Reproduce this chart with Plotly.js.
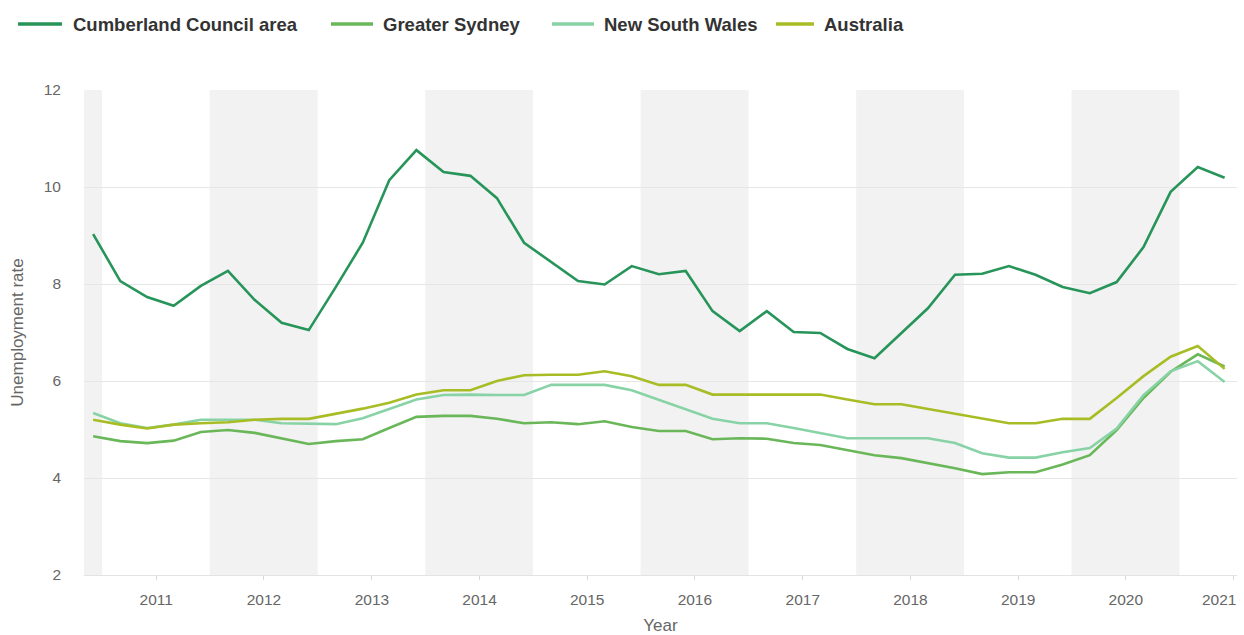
<!DOCTYPE html>
<html>
<head>
<meta charset="utf-8">
<script src="https://cdn.plot.ly/plotly-3.0.1.min.js"></script>
<style>html,body{margin:0;padding:0;background:#fff;}#chart{width:1244px;height:635px;}</style>
</head>
<body>
<div id="chart"></div>
<script>
const quarters = [
  '2010-06-01','2010-09-01','2010-12-01',
  '2011-03-01','2011-06-01','2011-09-01','2011-12-01',
  '2012-03-01','2012-06-01','2012-09-01','2012-12-01',
  '2013-03-01','2013-06-01','2013-09-01','2013-12-01',
  '2014-03-01','2014-06-01','2014-09-01','2014-12-01',
  '2015-03-01','2015-06-01','2015-09-01','2015-12-01',
  '2016-03-01','2016-06-01','2016-09-01','2016-12-01',
  '2017-03-01','2017-06-01','2017-09-01','2017-12-01',
  '2018-03-01','2018-06-01','2018-09-01','2018-12-01',
  '2019-03-01','2019-06-01','2019-09-01','2019-12-01',
  '2020-03-01','2020-06-01','2020-09-01','2020-12-01'
];

const cumberland = [9.03,8.06,7.73,7.55,7.96,8.27,7.67,7.20,7.05,7.94,8.85,10.14,10.76,10.31,10.23,9.77,8.85,8.45,8.06,7.99,8.37,8.20,8.27,7.44,7.03,7.44,7.01,6.99,6.66,6.47,6.99,7.50,8.19,8.21,8.37,8.19,7.94,7.81,8.04,8.76,9.90,10.41,10.19];
const greaterSydney = [4.86,4.76,4.72,4.77,4.95,4.99,4.93,4.82,4.70,4.76,4.80,5.03,5.26,5.28,5.28,5.22,5.13,5.15,5.11,5.17,5.05,4.97,4.97,4.80,4.82,4.81,4.72,4.68,4.58,4.47,4.41,4.31,4.20,4.08,4.12,4.12,4.28,4.47,4.99,5.65,6.19,6.55,6.30];
const nsw = [5.34,5.13,5.03,5.10,5.20,5.20,5.20,5.13,5.12,5.11,5.23,5.43,5.62,5.71,5.72,5.71,5.71,5.92,5.92,5.92,5.81,5.61,5.41,5.22,5.13,5.13,5.03,4.92,4.82,4.82,4.82,4.82,4.72,4.51,4.42,4.42,4.53,4.62,5.02,5.71,6.20,6.41,5.98];
const australia = [5.20,5.10,5.02,5.10,5.13,5.15,5.20,5.22,5.22,5.32,5.43,5.55,5.72,5.81,5.81,6.00,6.12,6.13,6.13,6.20,6.10,5.92,5.92,5.72,5.72,5.72,5.72,5.72,5.62,5.52,5.52,5.42,5.32,5.22,5.13,5.13,5.22,5.22,5.65,6.10,6.50,6.72,6.25];

const seriesNames = ['Cumberland Council area','Greater Sydney','New South Wales','Australia'];
const seriesColors = ['#27955a','#6ab75a','#88d3a6','#a8bd25'];

// shaded (financial-year) bands
const bandStarts = ['2010-04-01','2011-07-01','2013-07-01','2015-07-01','2017-07-01','2019-07-01'];
const bandEnds   = ['2010-07-01','2012-07-01','2014-07-01','2016-07-01','2018-07-01','2020-07-01'];

const yearTicks = ['2011-01-01','2012-01-01','2013-01-01','2014-01-01','2015-01-01','2016-01-01','2017-01-01','2018-01-01','2019-01-01','2020-01-01','2021-01-01'];
const yearLabels = ['2011','2012','2013','2014','2015','2016','2017','2018','2019','2020','2021'];

const values = [cumberland, greaterSydney, nsw, australia];
const traces = values.map((v,i)=>({
  x: quarters, y: v, type:'scatter', mode:'lines', name: seriesNames[i],
  line:{color: seriesColors[i], width: 2.6},
  showlegend:false, hoverinfo:'skip'
}));

// page geometry (style only)
const W = 1244, H = 635, M = {l:84, r:7, t:90, b:60};
const pw = W - M.l - M.r, ph = H - M.t - M.b;
const px2x = p => (p - M.l) / pw;
const py2y = p => (H - M.b - p) / ph;

const shapes = bandStarts.map((s,i)=>({
  type:'rect', xref:'x', yref:'paper', x0:s, x1:bandEnds[i], y0:0, y1:1,
  fillcolor:'#f2f2f2', line:{width:0}, layer:'below'
}));

// custom legend across the top
const legLineX = [[18,62],[331,373],[552,594],[776,814]];
const legTextX = [71,381,602,822];
const legY = 24;
const annotations = [];
seriesNames.forEach((n,i)=>{
  shapes.push({type:'line', xref:'paper', yref:'paper',
    x0:px2x(legLineX[i][0]), x1:px2x(legLineX[i][1]), y0:py2y(legY), y1:py2y(legY),
    line:{color:seriesColors[i], width:3.5}});
  annotations.push({xref:'paper', yref:'paper', x:px2x(legTextX[i]), y:py2y(legY),
    xanchor:'left', yanchor:'middle', showarrow:false, text:n,
    font:{family:'"Liberation Sans", Arial, sans-serif', size:18.5, color:'#333', weight:'bold'}});
});

// the last year label sits flush with the right edge of the plot, as in the original
const lastLabel = yearLabels[yearLabels.length-1];
const tickText = yearLabels.map((t,i)=> i === yearLabels.length-1 ? '' : t);
annotations.push({xref:'paper', yref:'paper', x:px2x(1238), y:py2y(599),
  xanchor:'right', yanchor:'middle', showarrow:false, text:lastLabel,
  font:{family:'"Liberation Sans", Arial, sans-serif', size:15.5, color:'#666'}});

const layout = {
  width:W, height:H,
  margin:M,
  paper_bgcolor:'#fff', plot_bgcolor:'#fff',
  font:{family:'"Liberation Sans", Arial, sans-serif', color:'#666'},
  showlegend:false,
  shapes: shapes,
  annotations: annotations,
  xaxis:{type:'date', range:['2010-05-01','2021-01-12'],
    tickvals: yearTicks, ticktext: tickText,
    showgrid:false, zeroline:false, showline:true, linecolor:'#e3e3e3', linewidth:1,
    ticks:'outside', ticklen:4, tickcolor:'#d8d8d8', ticklabelstandoff:6,
    tickfont:{size:15.5, color:'#666'},
    title:{text:'Year', font:{size:17, color:'#666'}, standoff:12}},
  yaxis:{range:[2,12], tickvals:[2,4,6,8,10,12], showgrid:true, gridcolor:'#e6e6e6', gridwidth:1,
    zeroline:false, showline:false, ticks:'', ticklabelstandoff:22,
    tickfont:{size:15.5, color:'#666'},
    title:{text:'Unemployment rate', font:{size:17, color:'#666'}, standoff:15}}
};

Plotly.newPlot('chart', traces, layout, {displayModeBar:false, staticPlot:true});
</script>
</body>
</html>
